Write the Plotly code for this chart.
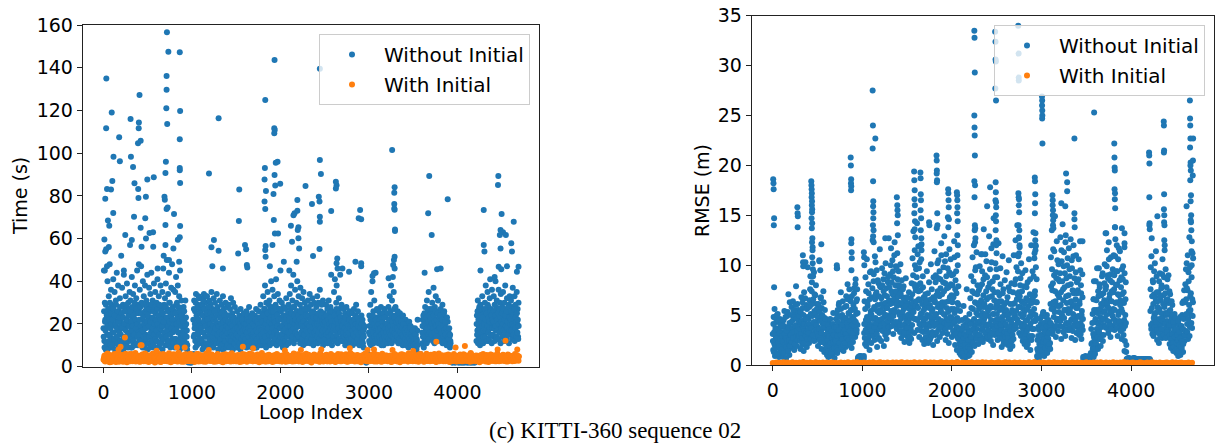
import plotly.graph_objects as go

# ---------------- data ----------------
# Loop-index spacing / offset of the sampled series below
STEP_TIME_WITHOUT = 5
STEP_TIME_WITH = 10
STEP_RMSE_WITHOUT = 5
STEP_RMSE_WITH = 20

# Time (s), "Without Initial": sampled cloud, loops 0,5,10,... (rows = 100 loops)
TIME_WITHOUT = [
    18,45,12,30,22,8,55,25,15,40,20,10,33,27,48,14,24,36,9,29,
    16,28,41,11,23,35,19,7,31,25,44,13,21,38,17,26,9,32,22,15,
    24,12,37,20,29,8,43,18,26,14,33,22,10,39,27,16,30,21,12,35,
    19,31,9,26,42,15,23,34,11,28,20,38,14,25,32,17,45,21,10,29,
    27,13,36,22,18,47,30,12,25,40,16,33,21,9,38,24,15,31,19,43,
    14,29,23,37,11,26,34,18,44,20,13,31,27,9,39,22,16,35,25,12,
    30,18,41,24,15,33,10,28,21,38,17,26,12,35,23,46,19,29,14,32,
    22,39,15,50,27,12,34,20,44,17,30,25,11,37,23,48,16,28,36,19,
    26,13,35,21,42,18,30,11,38,24,16,33,27,45,20,14,31,9,25,19,
    17,28,12,22,15,31,10,20,14,8,3,4,2,3,4,3,2,4,3,2,
    4,3,5,22,14,31,18,26,9,34,12,24,19,29,15,33,21,11,27,17,
    25,13,32,20,8,28,16,34,22,11,30,19,26,14,33,23,9,27,18,31,
    21,12,29,17,35,24,10,27,19,32,15,23,30,11,26,20,34,14,28,18,
    13,26,20,31,9,24,17,29,22,12,33,19,27,15,25,10,30,21,18,28,
    16,24,11,29,20,14,27,18,32,22,10,25,19,30,13,23,17,28,21,12,
    20,14,26,11,22,17,9,24,19,13,27,16,21,10,23,18,12,25,15,20,
    12,22,17,26,10,19,24,14,21,28,11,18,23,15,20,9,25,16,22,13,
    18,11,24,15,21,27,9,19,13,23,17,26,12,20,16,29,14,22,10,25,
    21,33,14,27,18,38,11,24,30,16,22,35,13,26,19,31,10,28,17,40,
    15,24,36,19,28,12,33,22,17,29,41,14,25,20,34,11,27,18,31,23,
    13,26,19,30,10,22,16,28,24,12,20,27,15,32,18,23,11,25,29,17,
    21,34,14,27,38,19,24,31,12,43,22,28,16,36,25,18,30,13,40,26,
    19,33,24,15,29,37,21,12,27,32,17,25,35,14,22,30,18,26,11,28,
    23,16,31,20,27,13,34,22,18,29,25,11,32,19,26,15,30,21,24,14,
    20,28,12,33,24,17,30,22,15,36,19,26,13,29,23,18,31,11,25,21,
    16,24,19,29,13,22,27,15,20,31,18,25,12,28,21,17,26,14,23,19,
    22,35,17,41,26,14,30,38,20,46,24,16,32,27,19,43,23,13,29,21,
    15,23,18,27,12,21,25,16,20,28,13,22,17,24,11,19,26,14,21,18,
    20,14,25,17,22,11,27,19,15,24,18,29,13,21,16,26,12,23,19,17,
    14,21,10,24,17,12,20,15,9,18,4,3,5,3,2,4,3,5,4,3,
    16,24,11,29,19,35,14,22,40,17,26,12,31,20,15,44,23,18,27,13,
    21,15,26,11,19,24,14,28,17,12,22,16,25,10,20,27,13,18,23,15,
    19,12,25,16,28,14,21,33,18,26,38,15,31,22,42,19,35,27,46,24,
    28,17,24,13,21,26,15,19,23,11,25,17,20,14,22,12,18,24,16,21,
    13,19,15,22,11,17,20,14,18,12,16,21,10,15,19,13,17,11,14,18,
    12,16,10,14,18,11,15,9,13,17,22,5,4,3,6,4,5,3,4,5,
    11,19,14,24,9,21,16,28,13,22,18,31,12,25,17,35,20,15,27,23,
    18,26,13,30,21,16,37,24,11,28,19,33,22,14,26,17,31,20,25,15,
    21,14,27,18,24,12,29,16,22,19,26,13,20,17,23,11,18,15,21,12,
    16,11,14,9,12,4,3,5,2,4,3,5,4,3,2,4,3,5,3,4,
    3,4,2,5,3,4,3,2,5,4,3,4,2,3,5,4,3,2,4,3,
    4,3,2,5,4,3,4,2,3,5,4,3,2,4,3,5,3,4,2,3,
    4,3,5,12,24,17,31,20,14,27,22,10,29,18,25,15,33,21,11,22,
    23,16,30,19,38,13,26,21,35,17,28,12,24,32,19,27,15,22,36,20,
    26,18,33,14,29,22,40,17,25,31,13,27,20,36,23,16,30,19,34,24,
    17,28,21,35,14,25,30,19,38,23,12,27,32,18,24,15,29,20,33,22,
    19,31,24,15,28,37,21,13,26,33,18,29,23,16,35,20,27,14,30,
]
# Time (s), "Without Initial": second sample, loops 2,7,12,... (rows = 100 loops)
TIME_WITHOUT_B = [
    14,26,9,21,17,29,11,24,19,8,27,15,22,12,30,18,10,25,20,13,
    22,10,27,16,13,24,8,20,29,14,18,11,26,21,9,23,16,28,12,19,
    11,25,18,8,23,14,28,20,10,26,17,12,29,22,15,9,24,19,13,27,
    26,13,21,17,9,28,19,12,24,15,30,10,22,18,27,11,20,14,25,16,
    15,22,10,28,19,12,25,17,9,23,29,14,20,11,26,18,13,27,21,8,
    24,11,19,14,27,9,21,16,29,12,23,18,10,26,15,20,28,13,22,17,
    12,27,20,9,24,15,29,18,11,22,14,26,19,8,25,13,21,28,16,10,
    28,14,23,17,10,26,19,12,30,21,15,9,24,18,27,13,22,11,25,20,
    17,9,25,13,29,20,11,23,16,28,12,21,8,26,14,19,24,10,22,15,
    21,12,26,9,19,14,23,11,17,10,5,3,4,6,3,5,4,2,5,4,
    5,4,3,6,27,15,20,12,30,18,24,10,28,16,22,13,32,19,25,11,
    18,29,12,24,16,31,10,21,27,14,19,33,11,25,17,22,9,28,15,20,
    13,20,25,10,17,23,14,19,9,22,16,26,12,18,21,11,24,15,20,8,
    19,11,16,23,13,20,10,25,15,18,8,21,14,24,12,17,22,9,19,16,
    10,18,21,13,24,9,16,20,12,23,15,19,8,22,14,17,11,21,18,13,
    15,9,18,12,21,14,17,11,20,8,16,19,13,22,10,17,14,20,11,18,
    17,13,20,9,16,22,12,18,14,21,10,17,19,12,23,15,11,20,14,16,
    11,19,14,22,9,17,13,21,16,11,20,14,18,10,23,12,17,15,21,13,
    16,12,24,19,27,14,20,9,22,17,25,12,18,29,15,21,11,23,16,26,
    20,14,18,26,11,23,16,21,13,28,17,10,24,19,15,22,12,27,18,14,
    18,11,22,15,19,9,24,13,17,21,12,18,23,10,20,14,19,16,11,22,
    15,23,19,12,25,17,21,14,28,18,11,24,20,16,22,13,26,19,15,21,
    24,14,19,22,11,26,16,20,13,23,18,10,21,15,27,19,12,24,17,20,
    12,20,16,24,14,19,11,22,17,21,13,25,15,18,10,23,16,20,14,19,
    17,23,14,20,11,25,16,19,13,22,18,12,24,15,21,17,10,20,14,23,
    21,13,17,24,15,19,11,22,16,14,20,12,23,18,15,21,10,19,17,13,
    14,19,24,12,21,17,27,15,22,11,20,18,25,13,17,23,16,21,12,19,
    19,12,16,21,14,18,10,23,15,17,12,20,14,19,16,22,13,18,11,20,
    13,21,17,10,19,15,22,12,18,14,20,11,16,23,13,19,15,21,10,17,
    18,12,16,20,13,22,11,17,14,19,3,5,4,2,5,3,4,6,3,4,
    12,19,15,22,10,17,21,13,24,16,11,20,14,18,12,22,17,15,19,13,
    17,11,20,14,22,12,18,15,10,21,13,19,16,11,23,14,18,12,20,16,
    14,20,11,18,13,22,16,12,19,15,24,11,17,21,14,19,13,23,16,18,
    15,21,12,18,14,22,11,17,20,13,16,19,12,21,15,18,10,20,14,17,
    11,16,13,18,10,15,12,17,14,9,16,13,11,18,12,15,10,14,17,12,
    10,14,12,9,15,11,13,8,12,10,4,6,3,5,4,3,6,4,5,3,
    16,22,10,19,14,25,12,20,17,23,11,18,27,15,21,13,24,16,19,22,
    23,15,20,27,12,18,24,16,21,13,26,19,14,22,17,25,12,20,18,23,
    18,24,13,20,16,22,11,19,14,25,17,12,21,15,18,10,23,13,17,14,
    13,18,10,15,11,3,5,4,2,4,5,3,4,3,5,2,4,3,5,4,
    4,3,5,2,4,3,5,4,3,2,4,5,3,4,2,3,5,4,3,4,
    3,5,4,2,3,4,5,3,4,2,5,3,4,3,2,4,5,3,4,2,
    5,4,3,20,15,26,11,22,18,28,13,24,16,21,12,27,19,23,14,17,
    20,27,14,22,17,25,12,19,29,16,23,13,21,18,26,15,24,11,22,18,
    15,21,26,18,12,24,19,28,14,22,17,25,13,20,27,16,23,11,21,18,
    25,14,20,17,27,12,22,16,24,19,13,26,18,21,15,28,11,23,17,20,
    22,17,26,13,20,24,15,19,27,12,23,18,21,14,25,16,22,13,19,
]
# Time (s), "Without Initial": isolated high points
TIME_WITHOUT_PEAK_LOOP = [
    32,30,93,20,40,85,113,100,110,50,65,10,20,60,40,15,177,185,200,246,230,306,310,334,350,345,320,300,
    407,400,398,390,420,392,395,420,430,400,479,472,495,520,480,568,560,562,612,717,733,862,713,713,710,
    720,866,862,862,862,866,705,700,689,693,713,725,700,797,866,862,840,790,700,855,740,680,
    1192,1301,1248,1220,1301,1349,1230,1534,1530,1522,1599,1612,1620,1625,1828,1933,1930,1935,1930,1947,
    1967,1933,1824,1820,1836,1820,1828,1941,1997,1921,1925,1937,1973,1909,1832,1828,1832,1880,2038,2000,
    2118,2130,2147,2159,2191,2191,2203,2195,2203,2211,2183,2100,2283,2356,2368,2445,2457,2433,2441,2445,
    2445,2441,2445,2573,2626,2634,2626,2642,2634,2573,2700,2775,2847,2900,2884,2912,2912,2912,3057,3040,
    3262,3290,3286,3286,3286,3290,3294,3294,3290,3282,3274,3222,3681,3669,3709,3890,3770,3810,3629,
    4297,4297,4305,4462,4458,4499,4487,4515,4479,4547,4487,4636,4608,4616,4466,4495,4690,4672,4370,4260,
    4560,4420,
]
TIME_WITHOUT_PEAK_S = [
    134.9,111.6,119,78.7,83.2,83,98.3,87,72,68.4,66,59.6,54,56,47,45,107.4,96.2,52,61.7,45,116,98.3,93.5,85.9,70.2,59.3,57,
    127.2,114.4,111.6,104.6,105.8,83.2,79,65.1,56.2,48,79.6,69.5,87.7,62.6,60,88.7,62.9,56.2,46,156.6,147.5,147.2,136.1,129.7,121,
    113.6,119.7,106.5,93,92,86,96,90.7,79.6,78.2,73.8,74.5,66.3,71.5,65.9,60.6,59.5,55.4,57,49.2,50,52,
    90.5,116.3,59.3,55.9,54.3,46,47,83,68.2,53,57,55,47.6,46.5,124.9,143.6,111.6,110.8,109.3,95.5,
    96,89.8,93,87.7,82.3,77.3,73.8,84.8,85.7,80.9,68.7,62.4,62.4,57,56.5,54.6,51.5,47,49.2,45,
    66,58.5,70.9,71.8,78,73,65.3,64,60.1,55.4,49.2,45,84.6,76.2,51.8,96.8,90.2,79.6,77.3,70.2,
    67.9,55.1,139.5,72.9,86.6,85,83.5,50.7,48.4,43,46,44.5,49.2,73.4,69.5,69,48.4,47,43.7,42.5,
    101.5,84,81.5,76.2,74.1,73.5,64.3,63.5,51.5,50,47.6,41.4,89.3,71.8,61.7,78.4,45.6,46,44,
    73.4,57,53.9,89.3,85.1,71.5,64,63,61.7,61.7,55.4,67.9,57.8,53.9,46.8,45.6,46.8,44.5,41,45,
    47,42,
]

# Time (s), "With Initial": loops 0,10,20,... (rows = 100 loops)
TIME_WITH = [
    3.2,5.1,2.4,4.6,2.9,6.0,3.7,2.1,5.4,3.0,
    4.3,2.6,5.8,3.4,2.2,4.9,3.8,6.3,2.7,4.1,
    3.5,5.6,2.3,4.4,3.1,6.1,2.8,5.0,3.9,2.5,
    4.7,3.3,5.9,2.6,4.0,3.6,6.4,2.9,5.2,3.4,
    2.4,4.8,3.7,5.5,2.8,4.2,3.1,6.2,2.5,4.5,
    3.9,2.2,5.3,3.2,4.6,2.7,5.7,3.5,2.0,4.9,
    5.0,3.4,2.6,6.0,3.8,2.3,4.4,3.0,5.5,2.8,
    3.6,5.2,2.5,4.1,6.3,3.3,2.1,4.7,3.9,5.8,
    2.9,4.3,3.5,5.1,2.4,6.5,3.7,2.6,4.0,5.4,
    3.1,2.3,4.9,3.6,5.7,2.8,4.2,3.3,6.1,2.5,
    4.5,3.0,5.3,2.2,4.6,3.8,2.7,5.9,3.4,4.1,
    2.6,5.0,3.9,2.4,4.8,3.1,6.2,2.9,4.3,3.5,
    5.6,2.7,4.0,3.2,5.1,2.3,4.7,3.6,2.8,6.0,
    3.3,4.4,2.5,5.4,3.7,2.1,4.9,3.0,5.8,4.2,
    2.8,5.2,3.5,4.1,2.4,6.3,3.8,2.6,4.6,3.1,
    4.8,2.9,5.5,3.4,2.2,4.3,3.9,5.9,2.7,4.0,
    3.6,5.0,2.3,4.5,3.2,6.1,2.8,4.9,3.7,2.5,
    5.3,3.0,4.2,2.6,5.7,3.5,2.1,4.6,3.3,6.4,
    2.9,4.4,3.8,5.1,2.4,4.0,3.1,5.6,2.7,4.7,
    3.4,2.2,5.2,3.9,4.5,2.8,6.0,3.2,4.1,2.5,
    4.9,3.6,2.6,5.4,3.0,4.3,2.3,5.8,3.7,4.6,
    2.7,5.0,3.3,4.2,2.4,6.2,3.8,2.9,4.8,3.1,
    5.5,2.6,4.0,3.5,5.1,2.2,4.4,3.9,2.8,6.1,
    3.2,4.7,2.5,5.3,3.6,2.0,4.9,3.4,5.7,4.1,
    2.9,5.2,3.7,4.3,2.3,6.3,3.1,2.7,4.6,3.5,
    4.8,3.0,5.6,2.6,4.1,3.8,2.4,5.9,3.3,4.5,
    3.5,5.1,2.2,4.7,3.0,6.0,2.8,4.4,3.9,2.5,
    5.4,3.2,4.0,2.7,5.8,3.6,2.3,4.8,3.1,6.4,
    2.8,4.5,3.7,5.0,2.4,4.2,3.3,5.5,2.6,4.9,
    3.6,2.1,5.3,3.8,4.6,2.9,6.2,3.1,4.0,2.5,
    4.8,3.5,2.7,5.6,3.0,4.3,2.4,5.9,3.7,4.4,
    2.6,5.1,3.2,4.1,2.3,6.1,3.9,2.8,4.7,3.4,
    5.2,2.5,4.0,3.6,5.0,2.2,4.5,3.8,2.9,6.0,
    3.1,4.6,2.6,5.3,3.5,2.1,4.8,3.3,5.7,4.2,
    2.8,5.4,3.7,4.4,2.4,6.3,3.0,2.7,4.9,3.6,
    4.7,3.2,5.5,2.5,4.2,3.9,2.3,5.8,3.4,4.6,
    3.4,5.0,2.3,4.8,3.1,6.1,2.7,4.3,3.8,2.6,
    5.6,3.1,4.1,2.8,5.9,3.5,2.2,4.7,3.2,6.2,
    2.9,4.4,3.6,5.2,2.5,4.0,3.3,5.4,2.7,4.9,
    3.7,2.2,5.1,3.9,4.5,2.8,6.0,3.0,4.2,2.4,
    4.6,3.4,2.6,5.7,3.1,4.4,2.5,5.8,3.6,4.3,
    2.7,5.3,3.2,4.0,2.3,6.4,3.8,2.9,4.8,3.5,
    5.1,2.6,4.2,3.7,5.0,2.1,4.6,3.9,2.8,5.9,
    3.3,4.7,2.4,5.5,3.5,2.2,4.9,3.1,5.6,4.0,
    2.8,5.2,3.6,4.5,2.5,6.2,3.0,2.6,4.7,3.4,
    4.9,3.3,5.4,2.7,4.1,3.8,2.4,5.7,3.2,4.4,
    3.5,5.0,2.6,4.6,3.0,6.0,2.9,4.2,3.7,2.8,
]
# Time (s), "With Initial": second sample, loops 5,15,25,...
TIME_WITH_B = [
    4.1,2.7,5.5,3.3,6.2,2.4,4.6,3.8,2.2,5.0,
    2.9,4.4,3.1,5.9,2.5,3.7,5.2,2.3,4.8,3.6,
    5.3,3.0,4.2,2.6,5.6,3.9,2.1,4.7,3.2,6.0,
    2.5,4.9,3.6,2.8,5.4,4.0,2.4,5.1,3.5,4.3,
    3.8,2.3,4.5,3.0,5.8,2.6,4.9,3.4,5.5,2.9,
    4.7,3.6,2.5,5.2,3.1,6.1,2.8,4.3,3.9,2.4,
    2.6,4.8,3.3,4.1,2.2,5.4,3.7,5.9,2.7,4.5,
    5.0,2.8,4.3,3.6,2.4,4.9,5.6,3.2,2.5,4.0,
    3.4,5.7,2.6,4.2,3.8,3.0,5.2,4.6,2.3,3.5,
    4.6,3.3,5.8,2.5,4.0,3.7,2.7,4.8,3.1,5.5,
    2.7,4.2,3.6,5.0,2.9,6.0,3.4,2.4,4.4,3.2,
    5.4,3.1,2.5,4.6,3.7,2.3,5.1,4.0,3.3,2.8,
    3.0,4.5,5.7,2.6,3.8,4.9,3.2,2.4,5.3,3.5,
    4.8,2.7,3.5,4.2,2.3,5.6,3.9,4.5,2.6,3.4,
    3.6,4.4,2.6,5.8,3.2,2.7,4.7,3.4,5.3,2.5,
    2.6,3.9,4.8,2.8,5.2,3.5,2.4,4.1,3.1,5.7,
    4.4,2.7,5.5,3.6,2.9,4.3,3.4,5.9,2.6,4.0,
    3.2,5.1,2.9,4.7,3.5,2.5,5.6,3.0,4.3,2.6,
    5.0,3.3,2.4,4.6,3.8,5.4,2.6,4.2,3.1,4.9,
    2.8,4.9,3.7,2.5,5.6,3.1,4.4,2.7,5.2,3.6,
    3.9,2.4,5.0,3.3,4.5,2.8,5.7,3.5,2.6,4.1,
    4.6,3.2,2.6,5.3,3.7,4.0,2.5,4.8,3.3,5.8,
    2.5,4.1,3.4,2.9,4.7,3.6,5.5,2.7,4.3,3.0,
    4.0,5.6,3.1,4.2,2.5,5.0,3.8,2.8,4.6,3.3,
    3.6,2.7,4.9,3.2,5.4,2.6,4.1,3.8,2.4,5.1,
    5.2,3.6,2.5,4.3,3.1,4.8,2.9,5.5,3.4,2.7,
    2.8,4.5,3.9,2.6,5.1,3.3,4.6,2.5,5.8,3.7,
    4.2,3.0,5.3,3.6,2.4,4.4,3.2,4.9,2.7,3.9,
    3.4,5.6,2.7,4.7,3.1,5.2,2.5,4.0,3.7,2.9,
    4.9,2.8,4.2,3.4,5.7,3.0,4.5,2.6,5.1,3.5,
    2.6,4.3,3.6,5.0,2.8,3.9,5.4,3.1,2.4,4.7,
    5.5,3.3,2.6,4.4,3.8,2.5,4.9,3.6,5.2,2.8,
    3.1,4.8,3.7,2.7,5.3,4.0,2.4,4.5,3.2,5.6,
    4.5,2.6,5.1,3.4,4.0,3.0,5.8,2.7,4.2,3.6,
    2.9,5.0,3.3,4.6,2.5,5.5,3.8,3.1,4.3,2.6,
    3.8,4.4,2.7,5.2,3.5,2.8,4.7,3.3,5.9,3.0,
    5.0,3.1,4.6,2.5,4.1,3.7,2.9,5.4,3.2,4.4,
    2.7,4.8,3.5,5.6,2.6,4.2,3.0,4.9,3.8,2.5,
    4.4,3.2,5.3,2.8,3.9,5.1,2.5,4.6,3.4,5.7,
    3.5,5.4,2.6,4.3,3.1,2.7,4.8,3.6,5.0,2.9,
    2.8,4.1,3.7,5.5,2.5,4.5,3.3,2.9,5.2,3.8,
    4.9,3.4,2.7,4.6,3.9,5.8,2.6,4.3,3.1,4.0,
    3.2,5.2,4.1,2.6,4.7,3.3,5.5,2.8,4.4,3.6,
    4.6,2.9,3.8,5.1,3.0,4.2,2.6,5.7,3.5,2.8,
    3.7,4.5,2.5,4.9,3.6,5.3,3.1,4.0,2.7,5.0,
    2.9,5.6,3.4,4.2,2.6,4.7,3.9,2.5,5.2,3.3,
    4.3,3.0,5.0,3.7,2.7,4.6,3.2,5.4,3.6,4.8,
]
TIME_WITH_PEAK_LOOP = [242,193,419,430,830,918,1575,1691,2231,2461,2783,2984,3057,3266,3761,3979,4084,4454,4543,4676,170,600,1190,2050,3500]
TIME_WITH_PEAK_S = [13.7,9.4,10.1,10,9,9,9.4,8.6,7.8,8.1,8.6,7.8,8.1,7.8,11.7,9,9.7,8.1,12.2,8.1,8,7.5,7.8,7.6,7.4]

# RMSE (m), "Without Initial": loops 0,5,10,... (rows = 100 loops)
RMSE_WITHOUT = [
    3.1,1.5,4.8,2.2,5.6,0.9,3.7,2.8,1.2,4.3,2.5,5.1,1.8,3.4,0.8,2.9,4.6,1.4,3.9,2.1,
    1.1,2.7,4.1,0.8,3.3,1.9,5.4,2.4,1.3,3.8,0.7,2.6,4.9,1.6,3.0,7.1,2.0,1.0,6.3,3.5,
    4.2,2.1,5.8,3.3,1.7,6.4,2.9,4.7,1.5,5.2,3.6,2.4,7.9,4.0,1.9,6.1,3.1,5.5,2.6,4.4,
    2.8,5.0,1.6,4.1,6.8,3.2,2.0,5.7,3.9,1.4,7.3,4.5,2.4,10.3,3.5,6.0,1.8,4.8,9.8,3.0,
    4.6,2.2,6.5,3.4,8.9,5.1,2.7,7.4,4.0,11.8,6.2,3.1,9.3,5.4,2.5,7.0,4.3,3.6,6.1,2.9,
    3.8,1.9,5.6,2.8,10.4,4.5,2.3,6.7,3.5,1.6,5.0,2.6,4.1,7.4,3.0,1.3,4.7,2.1,3.7,1.5,
    2.4,1.0,3.5,1.7,0.8,4.2,2.2,1.3,3.0,0.9,2.7,1.5,3.9,1.1,2.0,5.2,1.4,2.6,0.7,3.3,
    1.8,4.6,2.9,9.7,1.2,5.5,3.4,2.1,6.2,1.6,4.0,2.5,7.3,3.1,1.9,5.0,2.8,4.4,1.4,3.7,
    2.6,5.8,3.9,1.8,6.9,4.5,2.4,8.1,3.3,5.2,2.0,7.6,4.2,2.9,6.4,3.6,1.7,5.5,4.8,2.3,
    6.0,3.5,7.7,4.4,2.8,8.6,5.1,3.2,6.6,4.0,0.6,0.8,0.5,0.7,0.9,0.6,0.4,0.8,0.7,0.5,
    0.6,0.8,0.5,0.7,3.2,6.4,2.1,8.8,4.5,1.9,10.6,3.7,5.9,2.6,7.2,4.1,1.5,9.3,3.0,5.4,
    2.2,6.8,4.0,12.5,3.1,8.4,5.6,2.5,10.9,4.7,7.1,3.4,9.5,1.8,6.0,3.9,8.2,2.7,5.2,11.6,
    4.3,7.8,2.4,6.1,9.7,3.5,5.3,8.6,1.9,4.8,7.0,3.0,10.2,5.7,2.6,6.9,4.1,8.3,3.3,12.7,
    6.5,3.8,9.1,5.0,11.7,7.4,4.4,10.5,6.2,3.1,8.8,5.5,12.3,7.0,4.0,9.9,6.7,3.6,11.2,8.0,
    5.3,9.4,4.2,7.6,3.3,10.1,6.0,2.7,8.5,4.9,6.8,3.0,7.9,5.6,2.3,6.4,4.1,8.7,3.6,5.8,
    2.9,6.2,4.5,3.4,7.3,2.2,5.1,3.8,6.7,2.6,8.2,4.0,10.7,5.5,13.4,6.3,3.2,11.5,7.8,4.6,
    9.6,5.9,14.2,3.5,8.0,11.9,6.6,2.8,10.3,4.8,7.5,3.9,12.1,5.2,2.5,8.9,4.3,6.8,2.1,5.7,
    3.4,7.1,2.6,5.8,9.4,3.9,6.5,2.2,4.9,8.3,3.1,6.0,2.7,10.1,4.4,7.6,3.3,5.6,2.0,8.8,
    4.7,11.4,6.3,3.0,9.0,5.1,13.7,2.4,7.4,4.2,10.5,3.6,6.9,2.8,8.6,5.3,12.2,4.0,7.1,3.2,
    6.1,9.8,3.7,12.9,5.0,8.2,2.5,11.1,4.6,7.7,3.1,14.8,6.4,2.2,9.3,5.5,3.8,10.6,4.3,7.0,
    2.8,6.3,4.1,9.1,3.0,12.4,5.2,2.0,8.5,3.6,7.2,1.5,4.7,10.0,2.6,6.0,3.3,1.2,5.4,2.4,
    1.0,3.2,1.8,4.5,0.8,2.6,5.9,1.4,3.7,0.6,2.2,4.1,1.1,7.6,2.9,1.6,3.5,0.9,2.3,5.1,
    3.0,6.7,1.9,8.9,4.3,2.5,10.8,5.6,3.4,12.0,7.2,4.0,9.5,2.8,6.2,11.3,3.6,8.0,5.0,2.1,
    7.5,4.1,9.9,2.9,6.3,11.1,3.5,8.1,5.2,2.3,7.0,13.6,4.6,2.7,9.0,5.8,3.1,10.4,6.6,4.0,
    2.6,7.8,4.9,12.9,3.3,9.6,5.7,2.4,11.7,6.9,3.8,8.4,2.0,14.7,5.1,7.3,3.0,10.2,4.5,6.0,
    3.4,8.8,2.5,5.9,12.2,4.2,7.0,2.9,9.7,3.6,6.4,1.8,4.8,10.9,3.1,7.6,2.2,5.3,8.5,3.9,
    2.7,5.5,9.3,3.4,6.8,2.0,4.6,10.5,3.0,7.4,1.6,5.2,2.8,8.2,4.0,1.9,6.1,3.5,11.0,4.7,
    8.1,5.0,12.5,3.7,9.8,6.6,14.0,4.3,10.9,7.3,3.2,11.8,5.8,8.7,2.9,6.4,4.1,9.2,2.4,5.6,
    3.3,7.9,2.1,5.4,9.5,3.0,6.7,1.8,4.5,8.3,2.6,5.9,10.6,3.8,7.1,1.5,4.9,12.0,6.2,2.9,
    9.4,5.1,13.3,3.6,10.7,7.0,4.4,11.9,6.3,8.6,0.9,2.5,1.4,3.8,0.6,2.1,1.7,4.6,1.1,3.0,
    1.8,4.9,2.4,1.2,5.3,3.1,0.9,2.7,4.2,1.5,3.6,2.0,5.0,1.3,3.3,2.6,4.5,1.9,3.8,2.2,
    6.1,10.8,4.0,13.5,7.5,3.1,11.6,5.7,9.0,3.7,14.9,6.4,2.8,8.7,12.4,4.6,7.1,3.4,10.1,5.3,
    8.4,3.9,12.8,6.0,2.6,10.4,4.9,14.1,7.6,3.3,11.3,5.5,9.2,2.9,13.0,6.9,4.2,10.0,3.6,8.0,
    5.2,11.7,3.5,8.9,6.3,12.6,4.5,2.7,9.7,5.9,3.4,10.9,7.2,4.0,13.8,2.5,6.6,11.0,4.8,8.3,
    3.8,7.5,4.9,10.6,3.0,6.1,12.4,4.2,8.0,2.6,5.4,9.1,3.5,0.8,0.5,0.7,0.4,0.6,0.9,0.5,
    0.5,0.7,0.4,0.8,0.6,0.5,0.9,0.7,0.5,0.6,1.2,3.6,0.9,2.2,5.1,1.7,6.6,2.8,4.3,1.4,
    3.1,8.4,2.0,5.5,9.7,4.2,1.6,6.9,3.5,2.6,7.8,4.8,1.9,6.1,3.0,8.9,5.3,2.4,7.2,4.0,
    6.5,10.1,4.6,13.2,7.9,3.7,11.5,5.9,9.0,3.2,12.3,6.7,4.3,8.5,2.8,10.8,5.1,7.4,3.9,9.6,
    5.6,11.0,7.6,3.5,13.8,6.2,9.4,4.4,12.0,8.1,2.9,10.6,5.3,7.0,3.8,11.4,6.5,4.1,8.8,2.6,
    7.1,4.3,9.9,3.0,6.2,11.8,2.4,5.0,8.3,1.3,0.6,0.4,0.5,0.7,0.3,0.5,0.6,0.4,0.5,0.3,
    0.5,0.4,0.6,0.3,0.5,0.7,0.4,0.5,0.3,0.6,0.5,0.4,0.6,0.5,0.3,0.4,0.6,0.5,0.4,0.5,
    0.4,0.6,0.5,0.3,0.5,0.4,0.6,0.5,0.4,0.3,0.5,0.6,0.4,0.5,0.3,0.4,0.5,0.6,0.4,0.5,
    0.5,0.3,0.4,5.4,9.8,3.6,12.7,6.9,4.2,8.3,2.9,7.1,5.0,10.2,3.3,6.4,4.6,8.9,2.5,5.8,
    3.9,7.3,2.2,5.6,9.2,3.0,6.5,4.1,8.0,2.7,10.6,4.8,7.0,3.4,6.0,12.0,5.2,9.6,3.7,7.8,
    4.4,8.6,2.9,6.2,3.6,5.4,2.1,7.1,3.9,1.7,4.8,2.5,6.0,3.2,1.4,4.0,2.3,5.1,1.9,3.5,
    2.8,1.2,4.2,2.0,3.4,0.9,2.6,4.0,1.5,3.1,1.0,2.3,3.8,1.7,5.0,2.9,1.3,6.4,3.5,2.4,
    4.9,8.1,3.0,6.6,10.2,4.1,7.5,2.6,9.3,5.4,12.8,3.8,6.9,14.5,5.0,8.8,3.7,11.2,6.3,
]
# RMSE (m), "Without Initial": second sample, loops 2,7,12,... (rows = 100 loops)
RMSE_WITHOUT_B = [
    2.4,4.1,1.3,3.3,2.0,4.7,1.7,3.0,2.7,5.0,1.1,3.6,2.2,4.4,1.9,3.2,2.6,4.0,1.5,3.8,
    2.9,1.6,3.9,2.3,4.5,1.2,3.1,2.0,4.8,2.7,1.8,3.4,2.4,5.3,1.4,3.7,2.5,4.2,1.9,3.0,
    3.0,5.0,2.3,4.4,3.7,2.7,5.5,3.3,4.8,2.1,3.9,6.0,2.8,4.6,3.4,2.5,5.2,3.8,2.9,4.9,
    3.6,2.4,5.3,3.1,4.4,2.7,6.3,3.8,5.0,2.2,4.1,3.4,6.7,2.9,4.6,3.3,5.6,2.6,4.0,3.5,
    3.2,5.8,4.1,7.6,2.6,6.0,3.7,8.3,4.9,3.0,6.6,4.3,2.4,7.1,5.2,3.5,8.0,4.0,5.6,3.3,
    4.8,2.9,6.1,3.6,5.3,2.5,4.4,6.8,3.2,5.7,2.3,4.9,3.8,6.3,2.7,4.2,5.5,3.0,4.6,2.8,
    1.8,3.1,2.5,4.0,1.4,2.9,3.6,1.9,4.6,2.2,1.2,3.4,2.7,1.6,4.1,2.3,3.0,1.7,3.8,2.5,
    2.4,3.8,1.7,5.1,2.9,4.3,1.5,6.0,3.5,2.2,4.8,3.0,5.6,1.8,4.0,2.6,6.4,3.3,2.0,4.5,
    3.5,2.2,4.7,3.1,5.9,2.7,4.2,6.6,3.8,2.5,5.1,3.4,4.5,2.1,5.5,3.9,6.9,2.8,4.0,3.2,
    4.6,7.2,3.9,5.6,8.1,4.3,6.4,3.5,7.6,5.2,0.7,0.5,0.8,0.6,0.4,0.7,0.9,0.5,0.6,0.8,
    0.7,0.5,0.6,0.9,4.1,2.7,5.6,3.5,7.4,2.3,4.8,6.2,3.2,8.1,4.5,2.9,6.6,3.8,5.1,9.4,
    5.0,3.4,7.7,4.6,2.9,9.1,5.8,3.8,6.6,10.3,4.2,7.3,3.1,5.4,8.5,4.5,2.6,6.9,3.6,7.9,
    5.5,3.9,6.7,4.6,8.0,3.4,5.9,7.4,4.2,9.2,3.7,6.2,5.0,7.7,3.2,5.7,4.4,8.8,3.8,6.4,
    7.8,4.7,6.1,10.0,5.4,8.3,3.9,7.1,9.4,4.9,6.6,11.0,5.3,8.0,4.3,7.4,9.8,5.9,8.6,6.3,
    6.9,4.3,8.0,5.0,3.9,7.2,4.6,6.2,3.4,5.3,7.6,4.0,5.7,3.2,6.6,4.8,3.7,5.9,4.4,6.8,
    3.7,5.0,2.6,4.3,3.2,5.6,2.8,4.7,3.5,5.9,4.9,7.1,6.2,9.0,5.3,8.1,4.6,10.0,5.9,7.5,
    6.4,8.8,4.5,11.1,5.7,7.4,9.7,4.1,6.5,8.2,5.1,10.6,3.4,6.1,4.7,7.8,3.3,5.5,4.0,6.6,
    4.6,2.8,6.3,3.6,5.0,2.4,7.2,4.1,3.2,5.7,2.5,4.8,3.9,6.6,2.9,5.3,4.3,3.1,6.8,4.2,
    3.9,6.5,5.0,8.3,4.1,7.0,3.3,10.2,5.8,8.7,4.6,6.1,9.4,3.8,7.7,5.5,11.0,4.4,6.3,5.9,
    8.3,5.1,7.4,4.2,10.4,6.3,3.6,8.9,5.7,4.1,9.7,5.3,7.8,4.5,11.6,6.8,4.8,8.1,5.6,9.0,
    4.7,8.0,3.4,6.8,5.6,10.8,4.3,7.6,3.1,9.4,5.5,3.8,6.2,2.7,7.9,4.4,2.1,3.6,1.8,3.0,
    2.1,1.4,3.6,2.4,1.2,3.9,2.7,0.9,3.1,2.0,4.7,1.6,2.9,3.8,1.3,4.4,2.5,1.8,3.3,1.0,
    1.6,4.1,2.8,5.7,1.3,7.4,3.6,2.2,8.4,4.6,1.9,6.3,3.2,9.8,5.2,2.6,7.1,4.3,3.0,6.0,
    5.6,3.0,7.8,4.4,2.5,6.5,4.9,9.4,3.7,5.8,8.6,4.2,6.1,3.3,11.1,5.0,7.4,3.9,8.8,2.8,
    5.4,3.5,6.8,4.1,8.2,2.9,5.9,4.5,10.3,3.2,7.6,5.1,12.1,4.0,6.5,3.6,8.8,5.7,4.3,9.6,
    5.1,3.9,7.3,4.6,3.2,6.4,5.5,2.7,8.1,4.0,3.5,5.7,2.6,7.2,4.4,2.1,6.0,3.3,5.0,2.8,
    4.1,2.3,6.3,3.1,5.0,2.7,7.8,3.8,4.6,2.1,6.1,3.4,4.3,2.4,5.5,3.0,7.3,2.6,5.2,3.7,
    6.2,4.0,8.6,5.4,11.0,4.6,7.1,9.4,5.8,12.7,4.2,6.9,8.0,5.1,10.2,3.8,7.4,4.8,6.3,3.5,
    5.0,2.6,6.1,3.9,4.4,2.3,7.8,3.4,5.6,2.1,6.5,3.7,4.8,2.9,8.6,4.1,5.3,2.5,7.0,3.6,
    6.7,4.4,8.9,5.6,11.2,7.4,5.0,9.8,4.7,6.3,1.6,0.7,2.9,1.2,3.5,0.9,2.4,1.5,4.1,2.0,
    2.9,1.4,3.7,2.3,1.0,4.2,2.6,3.3,1.7,4.8,2.4,3.9,1.2,2.8,4.4,1.9,3.2,2.1,4.0,1.6,
    4.2,7.9,5.6,9.6,3.5,8.2,6.3,4.8,11.4,5.3,7.4,3.9,9.3,6.0,4.4,10.5,5.9,8.6,4.6,6.8,
    5.9,9.2,4.4,7.3,11.5,5.1,8.4,3.8,6.5,9.9,4.7,7.8,5.5,12.3,4.1,8.7,6.2,3.5,10.7,5.6,
    7.0,4.2,9.6,5.5,3.7,8.1,6.4,10.5,4.6,7.5,5.1,12.0,3.9,8.7,6.0,4.4,9.3,5.7,3.2,7.2,
    5.7,4.0,8.6,3.4,6.4,4.8,9.5,3.1,7.2,5.0,3.9,6.8,4.6,0.6,0.8,0.4,0.7,0.5,0.6,0.4,
    0.6,0.4,0.8,0.5,0.7,0.6,0.4,0.5,0.8,0.7,0.9,2.1,0.6,4.2,1.6,3.1,0.8,5.5,2.5,1.1,
    4.6,2.2,6.5,3.6,5.2,2.8,7.4,4.1,3.3,8.1,5.6,2.6,4.4,7.0,3.8,5.9,9.2,4.6,3.0,6.2,
    8.2,5.4,3.8,7.6,5.0,9.9,6.2,4.4,8.7,5.7,10.6,4.0,7.1,5.3,9.1,3.6,6.4,8.3,4.9,7.4,
    7.3,4.6,9.0,5.5,10.9,4.2,8.0,6.3,3.7,9.4,7.1,5.0,11.7,4.4,8.5,6.0,3.4,7.8,5.6,9.6,
    5.3,8.6,3.6,7.3,4.5,9.2,3.9,6.6,4.2,2.0,0.5,0.3,0.6,0.4,0.5,0.7,0.4,0.3,0.6,0.5,
    0.4,0.6,0.5,0.3,0.6,0.4,0.5,0.7,0.4,0.5,0.3,0.6,0.4,0.5,0.6,0.3,0.5,0.4,0.6,0.4,
    0.5,0.3,0.6,0.4,0.5,0.6,0.3,0.4,0.5,0.6,0.4,0.3,0.5,0.6,0.4,0.5,0.3,0.6,0.5,0.4,
    0.4,0.6,0.5,7.6,4.0,10.9,5.7,3.1,8.5,6.1,4.7,9.4,3.8,6.8,5.2,11.4,4.3,7.3,3.5,6.4,
    5.5,3.2,8.4,4.6,6.9,2.8,5.2,7.7,3.6,9.1,4.4,6.1,3.0,8.8,5.8,4.1,7.2,2.7,6.5,5.0,
    3.3,6.6,5.2,9.0,4.0,7.4,3.0,5.5,2.6,4.4,6.4,3.1,5.0,2.2,4.3,1.8,3.5,2.8,4.7,1.5,
    3.6,2.2,1.6,3.0,2.5,4.4,1.4,3.3,2.0,4.8,2.7,1.8,3.9,2.4,6.2,3.6,2.1,4.6,7.5,3.0,
    6.3,3.4,9.6,5.1,7.7,3.3,11.0,4.6,8.4,6.0,2.9,9.8,5.5,7.2,4.2,12.4,6.6,4.9,10.7,
]
# RMSE (m), "Without Initial": narrow high columns / isolated points
RMSE_WITHOUT_PEAK_LOOP = [
    5,8,10,15,12,15, 275,277,280,278, 336,338,340,
    430,432,434,436,434,438,436,440,438,433,440,436,442,438,444,440,446,448,450,
    542,520,530, 715,718,
    870,872,875,873,876,874,878,876,880,882,878, 1017,1020,1022,
    1115,1118,1115,1120,1122,1120,1124,1122,1118,1125,1120,1126,1145, 1256,
    1385,1390,1392,1395,1388,1396,
    1578,1580,1584,1582,1586,1580,1588,1584,1590,
    1648,1650,1652,1654,1650,1656,1652,1658,1655,1660, 1745,1748,
    1828,1830,1832,1830,1834,1832,1836,1838,
    1958,1960,1962,1964,1966,1960,
    2055,2058,2060,2062,2058,2064,2060,2066,2062,
    2250,2252,2255,2250,2252,2254,2256,2250,2258,2252,2256,2260,2254,2262,2258,
    2336,2393,2426,
    2482,2486,2487,2490,2484,2492,2488,2490,2486,2492,2494,2490,2492,2488,2496,2494,2498,
    2740,2744,2745,2746,2742,2744,2748,2746,2750,2744,2752,2748,2754,2750,
    2925,2927,2930,2928,2926,2932,2930,2934,2932,
    3005,3007,3006,3008,3009,3007,3010,3017,
    3122,3125,3124,3128,3126,3130,3128,3132,
    3221,3274,3286,3286,3265, 3367,3367,3367,3457, 3587,3585,3583, 3640,3722,
    3812,3814,3816,3818,3815,3820,3818,3822,3820,3824,
    3897,3926,3926,3926,
    4200,4202,4204,4203,4206,4204,4208, 4293,
    4364,4366,4368,4366,4368,4366,4370,4368,4372,4370,4374, 4619,
    4656,4658,4660,4662,4658,4664,4662,4666,4660,4668,4664,4670,4668,4672,4674,4676,4692,4690,4688,
]
RMSE_WITHOUT_PEAK_M = [
    18.6,18.2,17.6,14.7,14.0,7.8, 15.8,15.2,14.9,13.8, 11.0,10.3,9.9,
    18.4,18.0,17.6,17.2,16.8,16.4,16.0,15.6,15.3,14.7,14.2,13.7,12.7,12.3,11.5,10.8,10.2,9.6,8.9,
    12.1,10.5,9.5, 10.0,9.7,
    20.8,20.0,18.6,18.2,17.9,17.5,12.6,12.2,11.3,10.7,9.5, 11.3,10.8,10.0,
    27.5,24.0,21.7,18.4,16.4,15.9,15.3,14.7,14.0,13.5,12.9,12.3,22.7, 12.7,
    16.8,16.0,15.5,15.0,14.2,13.0,
    19.4,18.5,17.5,16.6,16.0,15.2,14.4,13.6,12.8,
    19.3,18.7,17.1,16.5,15.5,14.7,13.5,12.7,12.0,11.5, 14.3,14.0,
    21.0,20.5,19.5,19.2,18.5,18.3,15.2,14.0,
    17.6,17.2,16.5,15.8,14.6,13.8,
    17.3,17.0,16.5,15.8,15.2,14.4,13.0,12.0,11.0,
    33.5,32.8,29.3,25.0,23.8,23.0,21.0,18.4,18.0,16.8,14.0,13.7,13.5,12.7,12.3,
    11.1,15.9,17.8,
    33.4,32.4,30.6,30.4,27.7,26.5,18.3,17.3,16.5,16.3,15.8,15.0,14.4,13.5,12.5,12.0,11.2,
    34.0,31.2,28.8,28.5,17.2,16.8,16.6,16.0,15.3,14.0,13.5,12.8,12.0,11.2,
    18.8,18.4,17.1,16.2,15.2,13.2,12.5,12.0,11.5,
    26.9,26.5,26.0,25.5,25.0,24.7,22.2,5.2,
    17.0,16.5,16.0,15.5,15.0,14.5,14.0,13.7,
    16.2,19.2,18.3,17.4,15.9, 22.7,15.2,14.6,12.4, 25.3,8.4,6.6, 9.7,13.2,
    22.2,20.8,19.8,19.5,17.6,17.2,16.6,15.7,13.8,12.6,
    13.7,12.2,13.2,1.4,
    21.3,21.0,20.2,16.8,14.2,14.0,13.6, 14.9,
    24.4,24.0,21.5,21.3,17.1,15.6,15.0,14.3,14.0,12.5,11.5, 15.9,
    26.5,24.7,24.0,22.7,21.8,20.3,20.0,19.5,18.5,17.0,16.4,15.0,14.3,13.5,11.4,10.0,22.7,20.5,19.0,
]

# RMSE (m), "With Initial": loops 0,20,40,...
RMSE_WITH = [
    0.21,0.15,0.26,0.18,0.23,0.12,0.28,0.19,0.24,0.16,
    0.2,0.27,0.14,0.22,0.17,0.25,0.13,0.29,0.19,0.23,
    0.16,0.24,0.2,0.13,0.27,0.18,0.22,0.15,0.26,0.21,
    0.25,0.14,0.19,0.28,0.17,0.23,0.12,0.21,0.26,0.18,
    0.22,0.16,0.27,0.2,0.14,0.24,0.19,0.29,0.15,0.23,
    0.18,0.26,0.13,0.21,0.25,0.17,0.28,0.2,0.14,0.22,
    0.27,0.19,0.23,0.15,0.26,0.12,0.21,0.24,0.18,0.25,
    0.14,0.22,0.28,0.17,0.2,0.26,0.16,0.23,0.19,0.27,
    0.21,0.13,0.25,0.2,0.16,0.28,0.22,0.15,0.24,0.18,
    0.26,0.19,0.14,0.23,0.27,0.17,0.21,0.25,0.12,0.2,
    0.24,0.16,0.22,0.29,0.18,0.14,0.26,0.21,0.19,0.23,
    0.15,0.27,0.2,0.17,0.25,0.22,0.13,0.28,0.18,0.24,
    0.2,0.14,0.26,0.21,0.16,0.23,0.27,0.19,0.15,0.22,
    0.28,0.18,0.24,0.12,0.21,0.26,0.17,0.2,0.25,0.14,
    0.23,0.19,0.16,0.27,0.22,0.18,0.29,0.15,0.21,0.24,
    0.17,0.25,0.2,0.13,0.26,0.22,0.19,0.27,0.16,0.23,
    0.21,0.14,0.28,0.18,0.24,0.2,0.15,0.25,0.22,0.12,
    0.26,0.19,0.23,0.17,0.21,0.27,0.14,0.22,0.18,0.25,
    0.16,0.24,0.2,0.28,0.15,0.21,0.26,0.13,0.23,0.19,
    0.27,0.18,0.22,0.16,0.25,0.2,0.29,0.17,0.24,0.14,
    0.22,0.26,0.15,0.21,0.19,0.27,0.23,0.12,0.2,0.25,
    0.18,0.24,0.28,0.16,0.22,0.14,0.26,0.21,0.19,0.23,
    0.25,0.17,0.2,0.27,0.13,0.24,0.18,0.22,0.26,0.15,
    0.21,0.19,0.25,0.16,0.23,
]

X_TICKS = [0, 1000, 2000, 3000, 4000]
TIME_TICKS = [0, 20, 40, 60, 80, 100, 120, 140, 160]
RMSE_TICKS = [0, 5, 10, 15, 20, 25, 30, 35]
LABEL_WITHOUT = "Without Initial"
LABEL_WITH = "With Initial"
CAPTION = "(c) KITTI-360 sequence 02"

# ---------------- figure ----------------
BLUE = "#1f77b4"
ORANGE = "#ff7f0e"
W, H = 1220, 444
FONT = "DejaVu Sans, Verdana, sans-serif"
FS = 19
FS_LEG = 20


def sampled(values, step, offset=0):
    return [offset + i * step for i in range(len(values))]


def marker(color):
    return dict(color=color, size=6, line=dict(width=0))


fig = go.Figure()
fig.add_trace(go.Scatter(
    x=sampled(TIME_WITHOUT, STEP_TIME_WITHOUT) + sampled(TIME_WITHOUT_B, STEP_TIME_WITHOUT, 2)
      + TIME_WITHOUT_PEAK_LOOP,
    y=TIME_WITHOUT + TIME_WITHOUT_B + TIME_WITHOUT_PEAK_S,
    mode="markers", name=LABEL_WITHOUT, marker=marker(BLUE),
    xaxis="x", yaxis="y", legend="legend", legendgroup="a"))
fig.add_trace(go.Scatter(
    x=sampled(TIME_WITH, STEP_TIME_WITH) + sampled(TIME_WITH_B, STEP_TIME_WITH, 5) + TIME_WITH_PEAK_LOOP,
    y=TIME_WITH + TIME_WITH_B + TIME_WITH_PEAK_S,
    mode="markers", name=LABEL_WITH, marker=marker(ORANGE),
    xaxis="x", yaxis="y", legend="legend", legendgroup="b"))
fig.add_trace(go.Scatter(
    x=sampled(RMSE_WITHOUT, STEP_RMSE_WITHOUT) + sampled(RMSE_WITHOUT_B, STEP_RMSE_WITHOUT, 2)
      + RMSE_WITHOUT_PEAK_LOOP,
    y=RMSE_WITHOUT + RMSE_WITHOUT_B + RMSE_WITHOUT_PEAK_M,
    mode="markers", name=LABEL_WITHOUT, marker=marker(BLUE),
    xaxis="x2", yaxis="y2", legend="legend2", legendgroup="c"))
fig.add_trace(go.Scatter(
    x=sampled(RMSE_WITH, STEP_RMSE_WITH),
    y=RMSE_WITH,
    mode="markers", name=LABEL_WITH, marker=marker(ORANGE),
    xaxis="x2", yaxis="y2", legend="legend2", legendgroup="d"))

axis_style = dict(
    showline=True, mirror=True, linecolor="#222222", linewidth=1,
    ticks="outside", ticklen=5, tickwidth=1, tickcolor="#222222",
    showgrid=False, zeroline=False, automargin=False,
    tickfont=dict(family=FONT, size=FS, color="black"),
)
x_style = dict(axis_style, ticklabelstandoff=3)


def px_x(p):
    return p / W


def px_y(p):
    return 1 - p / H


legend_style = dict(
    xanchor="right", yanchor="top",
    bgcolor="rgba(255,255,255,0.8)", bordercolor="#cccccc", borderwidth=1,
    font=dict(family=FONT, size=FS_LEG, color="black"),
    itemwidth=54, tracegroupgap=1,
)


def label(text, x, y, angle=0, family=FONT, size=FS):
    return dict(text=text, x=px_x(x), y=px_y(y), xref="paper", yref="paper",
                xanchor="center", yanchor="middle", showarrow=False, textangle=angle,
                font=dict(family=family, size=size, color="black"))


fig.update_layout(
    width=W, height=H,
    margin=dict(l=0, r=0, t=0, b=0),
    paper_bgcolor="white", plot_bgcolor="white",
    showlegend=True,
    xaxis=dict(domain=[px_x(82.7), px_x(539.3)], range=[-235, 4925],
               tickvals=X_TICKS, anchor="y", **x_style),
    yaxis=dict(domain=[px_y(366.7), px_y(25)], range=[0, 160],
               tickvals=TIME_TICKS, anchor="x", **axis_style),
    xaxis2=dict(domain=[px_x(751.7), px_x(1214)], range=[-235, 4925],
                tickvals=X_TICKS, anchor="y2", **x_style),
    yaxis2=dict(domain=[px_y(365), px_y(15.7)], range=[0, 35],
                tickvals=RMSE_TICKS, anchor="x2", **axis_style),
    legend=dict(x=px_x(530), y=px_y(34), **legend_style),
    legend2=dict(x=px_x(1205), y=px_y(25), **legend_style),
    annotations=[
        label("Loop Index", 311, 412),
        label("Loop Index", 983, 411),
        label("Time (s)", 20, 196, angle=-90),
        label("RMSE (m)", 702, 190, angle=-90),
        label(CAPTION, 615, 430, family="Liberation Serif, Times New Roman, serif", size=23),
    ],
)

fig.write_html(
    "out.html",
    config={"displayModeBar": False},
    post_script="document.body.style.margin='0px';document.documentElement.style.overflow='hidden';",
)
